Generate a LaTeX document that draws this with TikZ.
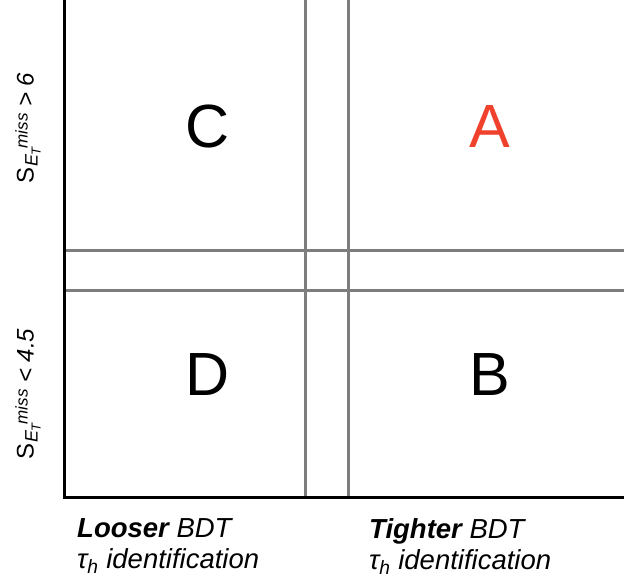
\documentclass[tikz,border=0pt]{standalone}
\usepackage{fontspec}
\setmainfont{Liberation Sans}
\usetikzlibrary{positioning}
\definecolor{regionRed}{RGB}{240,65,45}
\definecolor{cutGray}{RGB}{125,125,125}
\newcommand{\smet}{S\kern1pt{\fontsize{18}{18}\selectfont\itshape\raisebox{-4pt}{E}\kern-1pt\raisebox{-7pt}{\fontsize{13}{13}\selectfont T}\kern-1pt\raisebox{6pt}{\fontsize{17}{17}\selectfont miss}}}

\begin{document}
\begin{tikzpicture}[x=1pt,y=1pt,
  axis/.style={line width=3pt,black},
  cut/.style={line width=3pt,cutGray},
  reg/.style={font=\fontsize{61}{61}\selectfont,inner sep=0pt},
  ylab/.style={font=\fontsize{24}{24}\selectfont,rotate=90,inner sep=0pt},
  xlab/.style={font=\itshape\fontsize{27.5}{31}\selectfont,align=left,anchor=north west,inner sep=0pt}
]
  \useasboundingbox (0,0) rectangle (624,-583);

  % cut lines
  \draw[cut](305,0)--(305,-497);
  \draw[cut](348,0)--(348,-497);
  \draw[cut](64,-250)--(624,-250);
  \draw[cut](64,-290)--(624,-290);

  % axes
  \draw[axis](64,0)--(64,-497)--(624,-497);

  % regions
  \node[reg](C) at (208,-127){C};
  \node[reg,text=regionRed](A) at (490,-127){A};
  \node[reg](D) at (208,-375){D};
  \node[reg](B) at (490,-375){B};

  % labels
  \node[ylab](hi) at (28,-128){\smet\ \textit{> 6}};
  \node[ylab](lo) at (28,-394){\smet\ \textit{< 4.5}};
  \node[xlab](loose) at (77,-518)
      {\textbf{Looser} BDT\\τ\textsubscript{\textit{h}} identification};
  \node[xlab](tight) at (369,-518)
      {\textbf{Tighter} BDT\\τ\textsubscript{\textit{h}} identification};
\end{tikzpicture}
\end{document}
